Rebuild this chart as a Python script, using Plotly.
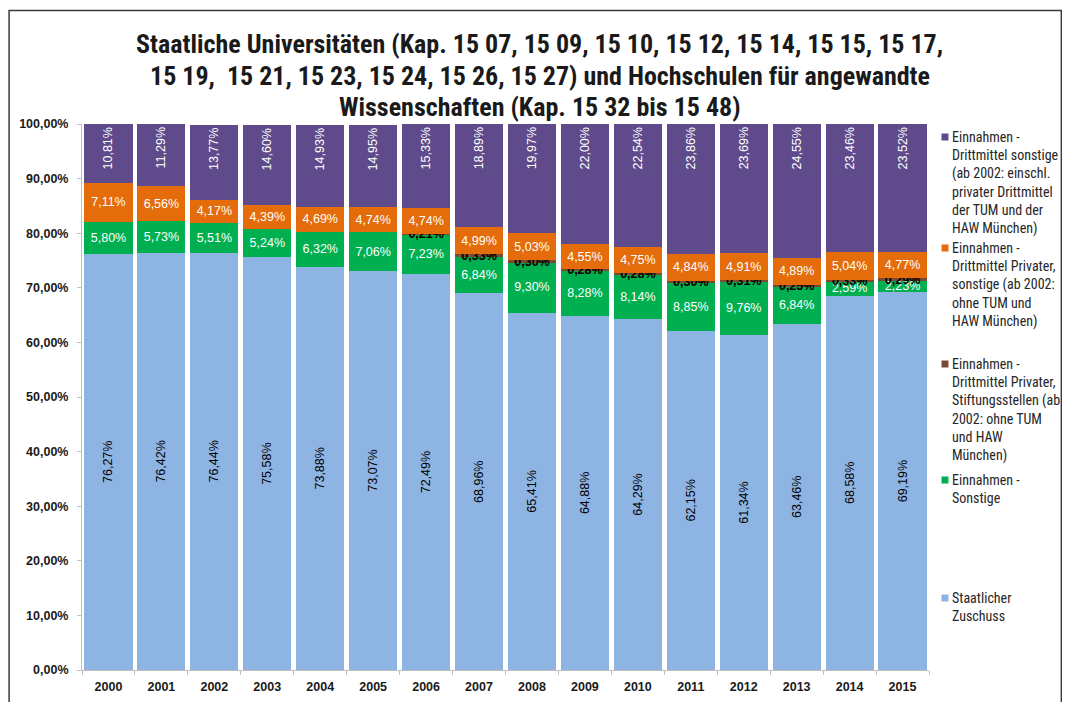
import plotly.graph_objects as go

# ---------------- data ----------------
years = ['2000', '2001', '2002', '2003', '2004', '2005', '2006', '2007',
         '2008', '2009', '2010', '2011', '2012', '2013', '2014', '2015']
zuschuss = [76.27, 76.42, 76.44, 75.58, 73.88, 73.07, 72.49, 68.96,
            65.41, 64.88, 64.29, 62.15, 61.34, 63.46, 68.58, 69.19]
sonstige = [5.80, 5.73, 5.51, 5.24, 6.32, 7.06, 7.23, 6.84,
            9.30, 8.28, 8.14, 8.85, 9.76, 6.84, 2.59, 2.23]
stiftung = [None, None, None, None, None, None, 0.21, 0.33,
            0.30, 0.28, 0.28, 0.30, 0.31, 0.25, 0.33, 0.29]
privat = [7.11, 6.56, 4.17, 4.39, 4.69, 4.74, 4.74, 4.99,
          5.03, 4.55, 4.75, 4.84, 4.91, 4.89, 5.04, 4.77]
drittmittel = [10.81, 11.29, 13.77, 14.60, 14.93, 14.95, 15.33, 18.89,
               19.97, 22.00, 22.54, 23.86, 23.69, 24.55, 23.46, 23.52]

legend_names = [
    "Einnahmen -<br>Drittmittel sonstige<br>(ab 2002: einschl.<br>privater Drittmittel<br>der TUM und der<br>HAW München)",
    "Einnahmen -<br>Drittmittel Privater,<br>sonstige (ab 2002:<br>ohne TUM und<br>HAW München)",
    "Einnahmen -<br>Drittmittel Privater,<br>Stiftungsstellen (ab<br>2002: ohne TUM<br>und HAW<br>München)",
    "Einnahmen -<br>Sonstige",
    "Staatlicher<br>Zuschuss",
]
ytick_vals = [0, 10, 20, 30, 40, 50, 60, 70, 80, 90, 100]
ytick_text = ['0,00%', '10,00%', '20,00%', '30,00%', '40,00%', '50,00%',
              '60,00%', '70,00%', '80,00%', '90,00%', '100,00%']
title_lines = ["Staatliche Universitäten (Kap. 15 07, 15 09, 15 10, 15 12, 15 14, 15 15, 15 17,",
               "15 19,  15 21, 15 23, 15 24, 15 26, 15 27) und Hochschulen für angewandte",
               "Wissenschaften (Kap. 15 32 bis 15 48)"]

# ---------------- style ----------------
NARROW = "Roboto Condensed, Liberation Sans Narrow, Arial Narrow, sans-serif"
LABEL = "Liberation Sans, Arial, sans-serif"
C_PURPLE = '#5F4B8B'
C_ORANGE = '#E46C0A'
C_BROWN = '#7B4A32'
C_GREEN = '#00B050'
C_BLUE = '#8EB4E3'

OFF = 8  # page body margin of the html page
W, H = 1070 - OFF, 702 - OFF
PX_L, PX_R, PX_T, PX_B = 81.5, 929.5, 124, 670   # plot area in page pixels
L, R, T, B = PX_L - OFF, W - (PX_R - OFF), PX_T - OFF, H - (PX_B - OFF)
PW, PH = PX_R - PX_L, PX_B - PX_T


def px_x(x):
    return (x - PX_L) / PW


def px_y(y):
    return (PX_B - y) / PH


def fmt(v):
    return '' if v is None else f"{v:.2f}%".replace('.', ',')


fig = go.Figure()

series = [
    (zuschuss, legend_names[4], C_BLUE, -90, 'middle', 'black', 'normal'),
    (sonstige, legend_names[3], C_GREEN, 0, 'middle', 'white', 'normal'),
    (stiftung, legend_names[2], C_BROWN, 0, 'middle', 'black', 'bold'),
    (privat, legend_names[1], C_ORANGE, 0, 'middle', 'white', 'normal'),
    (drittmittel, legend_names[0], C_PURPLE, -90, 'end', 'white', 'normal'),
]
for vals, name, col, ang, anchor, tcol, wt in series:
    fig.add_trace(go.Bar(
        x=years, y=vals, name=name.replace('<br>', ' '),
        marker=dict(color=col, line=dict(width=0)),
        text=[fmt(v) for v in vals],
        textposition='inside', insidetextanchor=anchor,
        textangle=ang, constraintext='none',
        textfont=dict(family=LABEL, size=12.5, color=tcol, weight=wt),
        showlegend=False,
    ))

# custom legend (Excel-like spacing)
legend_rows = [(legend_names[0], C_PURPLE, 137),
               (legend_names[1], C_ORANGE, 248),
               (legend_names[2], C_BROWN, 364),
               (legend_names[3], C_GREEN, 480),
               (legend_names[4], C_BLUE, 598)]
shapes = []
annotations = []
for txt, col, yc in legend_rows:
    shapes.append(dict(type='rect', xref='paper', yref='paper',
                       x0=px_x(942), x1=px_x(949), y0=px_y(yc + 3.5), y1=px_y(yc - 3.5),
                       fillcolor=col, line=dict(width=0)))
    annotations.append(dict(text=txt, xref='paper', yref='paper',
                            x=px_x(951), y=px_y(yc - 10), xanchor='left', yanchor='top',
                            align='left', showarrow=False,
                            font=dict(family=NARROW, size=14, color='#262626')))

for line, yc in zip(title_lines, [44, 76, 107]):
    annotations.append(dict(text=line, xref='paper', yref='paper',
                            x=px_x(540), y=px_y(yc), xanchor='center', yanchor='middle',
                            showarrow=False, align='center',
                            font=dict(family=NARROW, size=26, color='#1a1a1a', weight='bold')))

# outer frame
shapes.append(dict(type='rect', xref='paper', yref='paper',
                   x0=px_x(8.5), x1=px_x(1062), y0=px_y(720), y1=px_y(10.5),
                   line=dict(color='#3a3a3a', width=1.5), fillcolor='rgba(0,0,0,0)',
                   layer='below'))

fig.update_layout(
    width=W, height=H,
    margin=dict(l=L, r=R, t=T, b=B, autoexpand=False),
    barmode='stack', bargap=0.09,
    paper_bgcolor='white', plot_bgcolor='white',
    font=dict(family=NARROW),
    shapes=shapes, annotations=annotations,
    xaxis=dict(type='category', showgrid=False, showline=True, linecolor='#BFBFBF',
               ticks='outside', tickson='boundaries', ticklen=4, tickcolor='#BFBFBF',
               ticklabelstandoff=5,
               tickfont=dict(family=LABEL, size=12.5, color='#1a1a1a', weight='bold'),
               automargin=False),
    yaxis=dict(range=[0, 100], tickvals=ytick_vals, ticktext=ytick_text,
               showgrid=False, showline=True, linecolor='#BFBFBF', zeroline=False,
               ticks='outside', ticklen=4, tickcolor='#BFBFBF',
               ticklabelstandoff=6,
               tickfont=dict(family=LABEL, size=12.5, color='#1a1a1a', weight='bold'),
               automargin=False),
)

fig.write_html("out.html")
